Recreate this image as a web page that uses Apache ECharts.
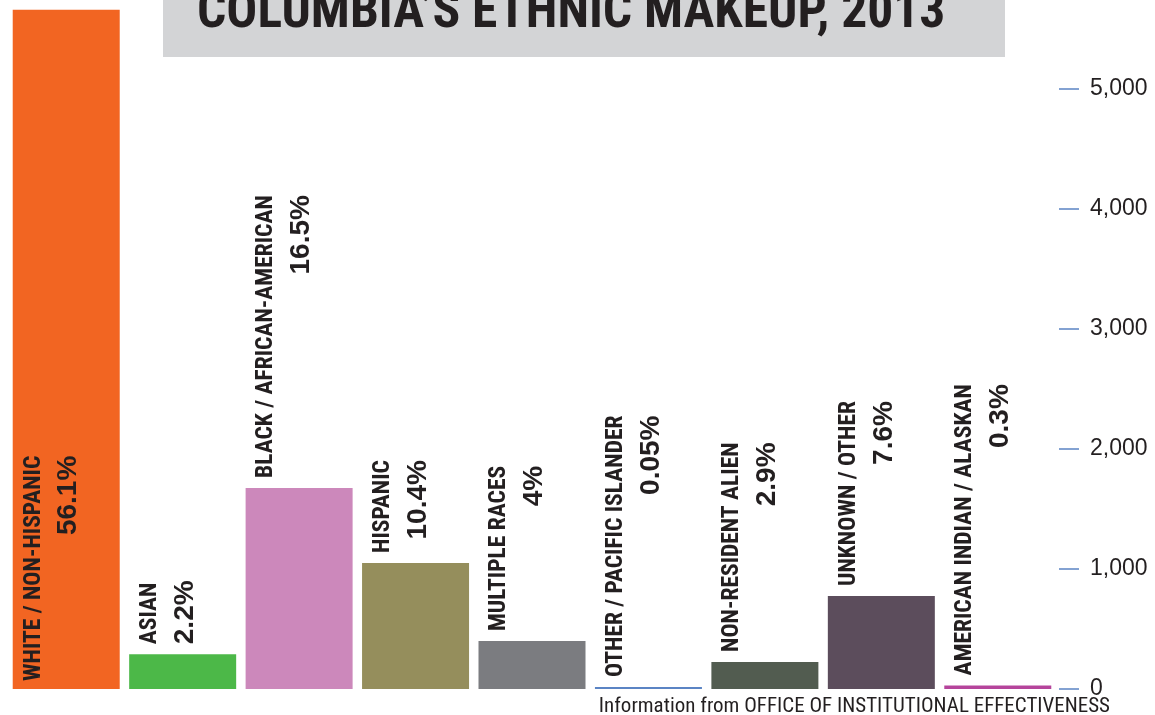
<!DOCTYPE html>
<html><head><meta charset="utf-8">
<script src="https://cdn.jsdelivr.net/npm/echarts@6/dist/echarts.min.js"></script>
<style>html,body{margin:0;padding:0;background:#fff}#c{width:1155px;height:715px}</style>
</head><body><div id="c"></div>
<script>
const categories = ['WHITE / NON-HISPANIC','ASIAN','BLACK / AFRICAN-AMERICAN','HISPANIC','MULTIPLE RACES','OTHER / PACIFIC ISLANDER','NON-RESIDENT ALIEN','UNKNOWN / OTHER','AMERICAN INDIAN / ALASKAN'];
const values = [5660, 290, 1675, 1050, 400, 5, 225, 775, 30];
const percents = ['56.1%','2.2%','16.5%','10.4%','4%','0.05%','2.9%','7.6%','0.3%'];
const colors = ['#f26522','#4cb848','#cc88bb','#958e5c','#7b7c80','#5b84c4','#525c50','#5c4d5c','#b5449b'];
const labelAlign = ['right','left','right','right','right','right','right','right','right'];
const yMax = 5000;
const yStep = 1000;
const titleText = 'COLUMBIA\u2019S ETHNIC MAKEUP, 2013';
const sourceText = 'Information from OFFICE OF INSTITUTIONAL EFFECTIVENESS';

const NARROW = "'Roboto Condensed','Open Sans Condensed','DejaVu Sans Condensed',sans-serif";
const SANS = "'Liberation Sans',Arial,sans-serif";
const INK = '#231f20';

const chart = echarts.init(document.getElementById('c'), null, {renderer: 'canvas'});

const data = values.map((v, i) => ({
  value: v,
  itemStyle: {color: colors[i]},
  label: {
    show: true,
    position: i === 0 ? 'insideBottom' : 'top',
    distance: i === 0 ? 8 : 10,
    rotate: 90,
    align: 'left',
    verticalAlign: 'middle',
    offset: [0, -15],
    formatter: '{n|' + categories[i] + '}\n{p|' + percents[i] + '}',
    rich: {
      n: {fontFamily: NARROW, fontWeight: 'bold', fontSize: 23.5, color: INK, lineHeight: 35, align: labelAlign[i]},
      p: {fontFamily: SANS, fontWeight: 'bold', fontSize: 28, color: INK, lineHeight: 35, align: labelAlign[i]}
    }
  }
}));

chart.setOption({
  animation: false,
  backgroundColor: '#ffffff',
  grid: {left: 8, right: 99, top: 89, bottom: 26, containLabel: false},
  xAxis: {
    type: 'category',
    data: categories,
    axisLine: {show: false},
    axisTick: {show: false},
    axisLabel: {show: false},
    splitLine: {show: false}
  },
  yAxis: {
    type: 'value',
    position: 'right',
    min: 0,
    max: yMax,
    interval: yStep,
    offset: 3,
    axisLine: {show: false},
    axisTick: {show: true, length: 20, lineStyle: {color: '#5b84c4', width: 1.5}},
    splitLine: {show: false},
    axisLabel: {
      margin: 31,
      color: INK,
      fontFamily: SANS,
      fontSize: 23,
      formatter: v => v.toLocaleString('en-US')
    }
  },
  series: [{
    type: 'bar',
    data: data,
    barWidth: 107,
    barMinHeight: 2,
    clip: false
  }],
  graphic: [
    {type: 'rect', shape: {x: 163, y: 0, width: 842, height: 57}, style: {fill: '#d3d4d6'}, z: 0},
    {type: 'text', x: 197, y: 14, z: 1, style: {text: titleText, font: 'bold 51.5px ' + NARROW, fill: INK, verticalAlign: 'middle', align: 'left'}},
    {type: 'text', x: 1110, y: 707, z: 1, style: {text: sourceText, font: '21px ' + NARROW, fill: INK, verticalAlign: 'middle', align: 'right'}}
  ]
});
</script>
</body></html>
